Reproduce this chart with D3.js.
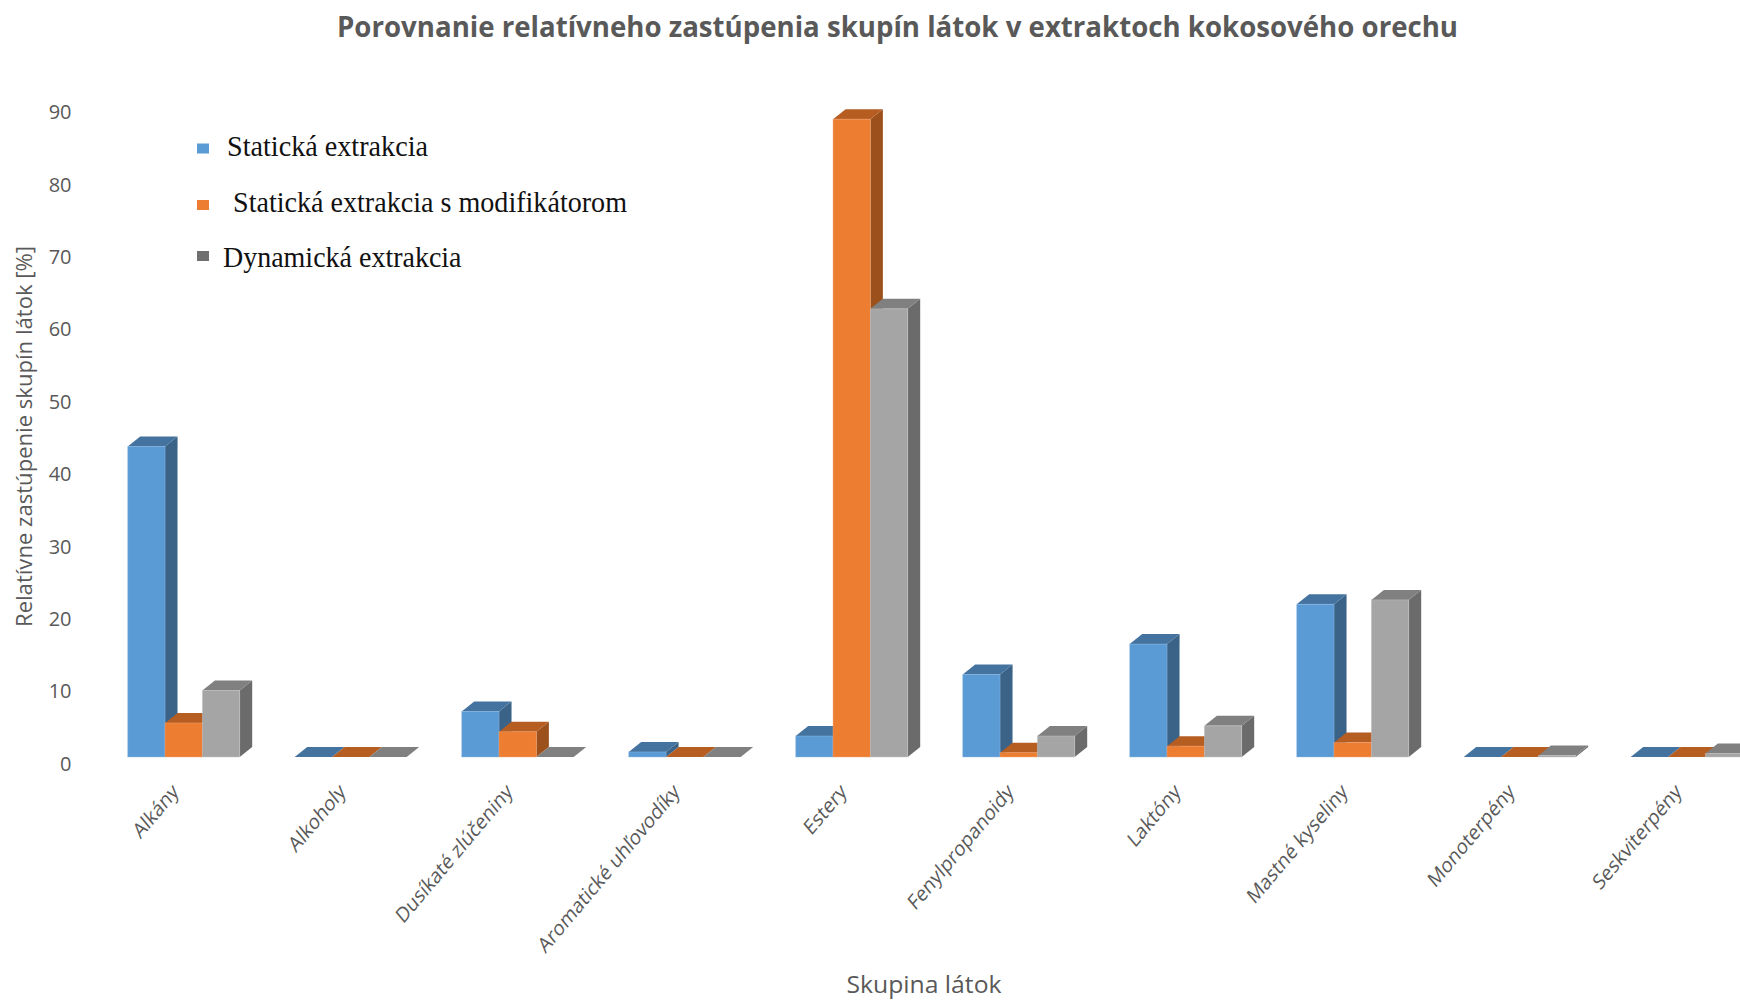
<!DOCTYPE html>
<html lang="sk">
<head>
<meta charset="utf-8">
<title>Porovnanie relatívneho zastúpenia skupín látok</title>
<script src="https://cdn.jsdelivr.net/npm/d3@7"></script>
<style>
  html, body { margin: 0; padding: 0; background: #ffffff; }
  svg { display: block; }
</style>
</head>
<body>
<div id="chart"></div>
<script>
// Skupiny látok (kategórie osi X)
const categories = [
  "Alkány", "Alkoholy", "Dusíkaté zlúčeniny", "Aromatické uhľovodíky", "Estery",
  "Fenylpropanoidy", "Laktóny", "Mastné kyseliny", "Monoterpény", "Seskviterpény"
];

// Relatívne zastúpenie [%] pre jednotlivé typy extrakcie
const staticka     = [42.9, 0, 6.3, 0.7, 2.9, 11.4, 15.6, 21.1, 0, 0];
const modifikator  = [4.7, 0, 3.5, 0, 88.1, 0.6, 1.5, 2.0, 0, 0];
const dynamicka    = [9.2, 0, 0, 0, 61.9, 2.9, 4.3, 21.7, 0.2, 0.5];

const seriesNames = ["Statická extrakcia", "Statická extrakcia s modifikátorom", "Dynamická extrakcia"];
const yTicks = [0, 10, 20, 30, 40, 50, 60, 70, 80, 90];

// Farby: predná stena, horná stena, bočná stena, okraj
const palette = [
  { front: "#5b9bd5", top: "#44739f", side: "#3a6387", edge: "#8fbbe6", legend: "#5b9bd5" },
  { front: "#ed7d31", top: "#b65d22", side: "#9c511d", edge: "#f4a878", legend: "#ed7d31" },
  { front: "#a5a5a5", top: "#808080", side: "#6b6b6b", edge: "#c6c6c6", legend: "#6f6f6f" }
];

const seriesValues = [staticka, modifikator, dynamicka];

const W = 1740, H = 1002;
const depthX = 12.5, depthY = -10;   // posun zadnej steny stĺpca
const labelShift = 6.5;              // popisy osi Y sú mierne pod prednou hranou

const svg = d3.select("#chart").append("svg")
  .attr("width", W).attr("height", H)
  .attr("viewBox", `0 0 ${W} ${H}`);

svg.append("rect").attr("width", W).attr("height", H).attr("fill", "#ffffff");

const y = d3.scaleLinear().domain([0, 90]).range([757, 105.4]);

const x = d3.scaleBand()
  .domain(categories)
  .range([100.2, 1770.2])
  .paddingInner(55 / 167)
  .paddingOuter(55 / 334);

const xs = d3.scaleBand()
  .domain(d3.range(seriesNames.length))
  .range([0, x.bandwidth()]);

const textColor = "#595959";

// Nadpis
svg.append("text")
  .attr("x", 897.5).attr("y", 36.5)
  .attr("text-anchor", "middle")
  .attr("font-family", "'Open Sans', sans-serif")
  .attr("font-weight", 700)
  .attr("font-size", 28)
  .attr("fill", textColor)
  .attr("textLength", 1121)
  .attr("lengthAdjust", "spacingAndGlyphs")
  .text("Porovnanie relatívneho zastúpenia skupín látok v extraktoch kokosového orechu");

// Popisy osi Y
svg.append("g").selectAll("text")
  .data(yTicks)
  .join("text")
  .attr("x", 71.5)
  .attr("y", d => y(d) + labelShift)
  .attr("dy", "0.36em")
  .attr("text-anchor", "end")
  .attr("font-family", "'Open Sans', sans-serif")
  .attr("font-size", 20)
  .attr("fill", textColor)
  .text(d => d);

// Názov osi Y
svg.append("text")
  .attr("transform", "translate(31.5,436.5) rotate(-90)")
  .attr("text-anchor", "middle")
  .attr("font-family", "'Open Sans', sans-serif")
  .attr("font-size", 21)
  .attr("fill", textColor)
  .attr("textLength", 381)
  .attr("lengthAdjust", "spacingAndGlyphs")
  .text("Relatívne zastúpenie skupín látok [%]");

// 3D stĺpce: kreslené zľava doprava, aby pravé stĺpce prekryli bočné steny ľavých
const bars = [];
categories.forEach((c, ci) => {
  seriesValues.forEach((vals, si) => {
    bars.push({ cat: c, s: si, v: vals[ci] });
  });
});

const gBars = svg.append("g");
bars.forEach(b => {
  const x0 = x(b.cat) + xs(b.s);
  const x1 = x0 + xs.bandwidth();
  const yb = y(0);
  const yt = y(b.v);
  const col = palette[b.s];
  const g = gBars.append("g");
  // bočná stena
  g.append("path")
    .attr("d", `M${x1},${yb} L${x1 + depthX},${yb + depthY} L${x1 + depthX},${yt + depthY} L${x1},${yt} Z`)
    .attr("fill", col.side);
  // horná stena
  g.append("path")
    .attr("d", `M${x0},${yt} L${x0 + depthX},${yt + depthY} L${x1 + depthX},${yt + depthY} L${x1},${yt} Z`)
    .attr("fill", col.top);
  // predná stena
  if (yb - yt > 0.2) {
    g.append("rect")
      .attr("x", x0).attr("y", yt)
      .attr("width", x1 - x0).attr("height", yb - yt)
      .attr("fill", col.front)
      .attr("stroke", col.edge)
      .attr("stroke-opacity", 0.55)
      .attr("stroke-width", 0.8);
  }
});

// Popisy kategórií
svg.append("g").selectAll("text")
  .data(categories)
  .join("text")
  .attr("transform", d => `translate(${x(d) + x.bandwidth() / 2 - 4},793) scale(1,1.19) rotate(-45)`)
  .attr("text-anchor", "end")
  .attr("font-family", "'Open Sans', sans-serif")
  .attr("font-size", 18)
  .attr("fill", textColor)
  .text(d => d);

// Názov osi X
svg.append("text")
  .attr("x", 924).attr("y", 993)
  .attr("text-anchor", "middle")
  .attr("font-family", "'Open Sans', sans-serif")
  .attr("font-size", 24)
  .attr("fill", textColor)
  .attr("textLength", 155)
  .attr("lengthAdjust", "spacingAndGlyphs")
  .text("Skupina látok");

// Legenda
const legendRows = [
  { name: seriesNames[0], my: 143.5, tx: 227, ty: 156, tl: 201 },
  { name: seriesNames[1], my: 200, tx: 233, ty: 211.5, tl: 394 },
  { name: seriesNames[2], my: 251, tx: 223, ty: 266.5, tl: 238.5 }
];
const gLeg = svg.append("g");
legendRows.forEach((r, i) => {
  gLeg.append("rect")
    .attr("x", 197).attr("y", r.my)
    .attr("width", 12).attr("height", 10)
    .attr("fill", palette[i].legend);
  gLeg.append("text")
    .attr("x", r.tx).attr("y", r.ty)
    .attr("font-family", "'Liberation Serif', 'Times New Roman', serif")
    .attr("font-size", 28.5)
    .attr("fill", "#111111")
    .attr("textLength", r.tl)
    .attr("lengthAdjust", "spacingAndGlyphs")
    .text(r.name);
});
</script>
</body>
</html>
